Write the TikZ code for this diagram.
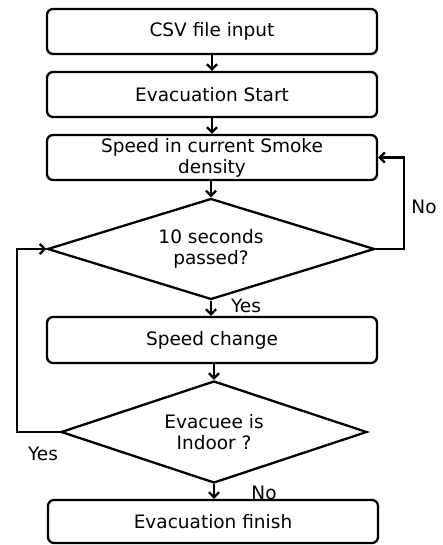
\documentclass[tikz,border=0pt]{standalone}
\usepackage{fontspec}
\setmainfont{DejaVu Sans}
\usetikzlibrary{shapes.geometric,arrows.meta}
\begin{document}
\begin{tikzpicture}[x=1pt,y=1pt,
  txt/.style={font=\fontsize{18.5}{21}\selectfont},
  box/.style={txt,draw,line width=2.3pt,rounded corners=6pt,minimum width=330pt,inner sep=0pt,align=center},
  dec/.style={txt,draw,diamond,shape aspect=3.2,line width=2.3pt,inner sep=0pt,align=center},
  arr/.style={line width=2.3pt,-{Straight Barb[length=5pt,width=10pt,line width=2.3pt]}},
  lbl/.style={txt,inner sep=0pt}]
\useasboundingbox (0,0) rectangle (443,545);
\node[box,minimum height=45pt] (b1) at (212,513.5) {CSV file input};
\node[box,minimum height=45pt] (b2) at (212,450.5) {Evacuation Start};
\node[box,minimum height=45pt] (b3) at (212,387.5) {Speed in current Smoke\\ density};
\node[dec,minimum width=327pt,minimum height=101pt] (d1) at (211,296) {10 seconds\\ passed?};
\node[box,minimum height=46pt] (b4) at (212,205) {Speed change};
\node[dec,minimum width=306pt,minimum height=102pt] (d2) at (214,113) {Evacuee is\\ Indoor ?};
\node[box,minimum height=43pt] (b5) at (213,23.5) {Evacuation finish};
\coordinate (r1) at (404,296);
\coordinate (r2) at (404,387.5);
\coordinate (l1) at (17,113);
\coordinate (l2) at (17,296);
\draw[arr] (b1) -- (b2);
\draw[arr] (b2) -- (b3);
\draw[arr] (b3.south -| d1.north) -- (d1.north);
\draw[arr] (d1.south) -- (d1.south |- b4.north);
\draw[arr] (b4.south -| d2.north) -- (d2.north);
\draw[arr] (d2.south) -- (d2.south |- b5.north);
\draw[arr] (d1.east) -- (r1) -- (r2) -- (b3.east);
\draw[arr] (d2.west) -- (l1) -- (l2) -- (d1.west);
\node[lbl] (no1) at (424,338) {No};
\node[lbl] (yes1) at (246,239) {Yes};
\node[lbl] (yes2) at (43,91) {Yes};
\node[lbl] (no2) at (264,52) {No};
\end{tikzpicture}
\end{document}
